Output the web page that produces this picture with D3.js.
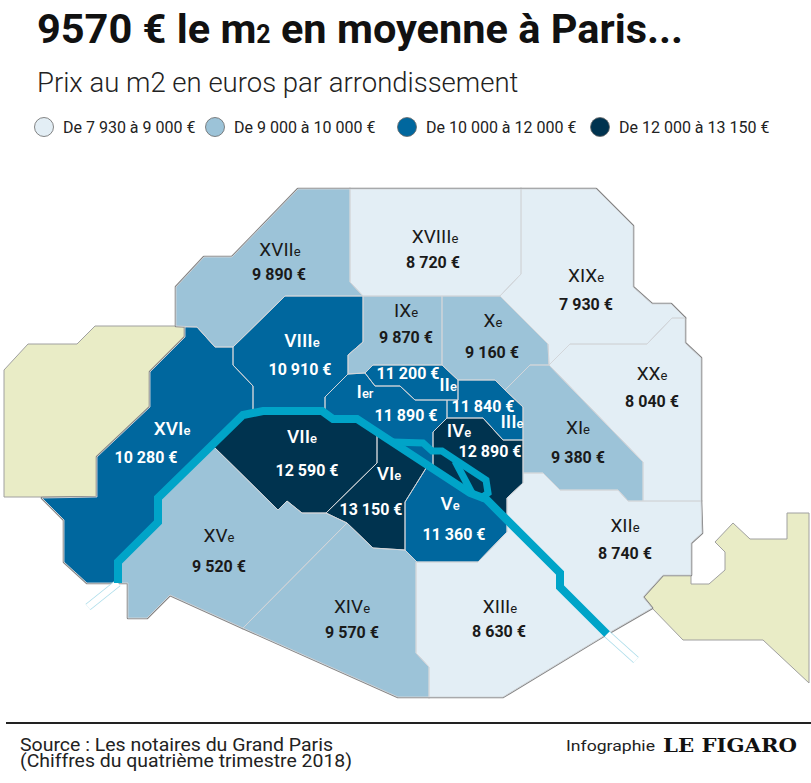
<!DOCTYPE html>
<html>
<head>
<meta charset="utf-8">
<title>Prix au m2 à Paris</title>
<script src="https://cdn.jsdelivr.net/npm/d3@7/dist/d3.min.js"></script>
<style>
  body { margin: 0; background: #fff; }
  svg text { font-family: Roboto, "Noto Sans", sans-serif; }
</style>
</head>
<body>
<svg id="chart" width="811" height="783"></svg>
<script>
  // arrondissements, in order I..XX
  const arrNames = ["I", "II", "III", "IV", "V", "VI", "VII", "VIII", "IX", "X",
                    "XI", "XII", "XIII", "XIV", "XV", "XVI", "XVII", "XVIII", "XIX", "XX"];
  const arrSuffix = ["er", "e", "e", "e", "e", "e", "e", "e", "e", "e",
                     "e", "e", "e", "e", "e", "e", "e", "e", "e", "e"];
  // prix au m2 (euros)
  const prices = [11890, 11200, 11840, 12890, 11360, 13150, 12590, 10910, 9870, 9160,
                  9380, 8740, 8630, 9570, 9520, 10280, 9890, 8720, 7930, 8040];

  // classes de la légende
  const breaks = [9000, 10000, 12000];
  const legendLabels = ["De 7 930 à 9 000 €", "De 9 000 à 10 000 €",
                        "De 10 000 à 12 000 €", "De 12 000 à 13 150 €"];

  // contours (unités de carte)
  const shapes = [
    [[325,411],[325,397],[348,374],[365,373],[375,386],[400,386],[415,400],[447,400],[447,418],[433,432],[433,469],[357,419],[333,419],[322,411]],
    [[365,373],[373,365],[442,365],[458,380],[458,400],[415,400],[400,386],[375,386]],
    [[458,380],[495,380],[505,390],[523,407],[523,440],[503,440],[483,418],[447,418],[447,400],[458,400]],
    [[433,432],[447,418],[483,418],[503,440],[523,440],[523,483],[507,498],[507,520],[486,499],[470,493],[433,469]],
    [[405,502],[428,465],[470,493],[486,499],[507,520],[507,532],[478,562],[417,562],[405,550]],
    [[377,432],[428,465],[405,502],[405,550],[373,548],[347,523],[326,513],[377,463]],
    [[212,445],[243,415],[263,411],[322,411],[333,419],[357,419],[377,432],[377,463],[326,513],[302,513],[287,501],[278,510]],
    [[233,347],[285,296],[363,296],[363,342],[348,355],[348,374],[325,397],[325,411],[263,411],[253,413],[253,386],[233,365]],
    [[363,296],[442,296],[442,365],[373,365],[365,373],[348,374],[348,355],[363,342]],
    [[442,296],[500,296],[548,344],[549,365],[530,365],[505,390],[495,380],[458,380],[442,365]],
    [[505,390],[530,365],[549,365],[643,462],[643,501],[628,501],[618,490],[560,490],[543,473],[523,473],[523,407]],
    [[507,498],[523,483],[523,473],[543,473],[560,490],[618,490],[628,501],[701,501],[702,533],[691,543],[691,575],[663,575],[643,597],[652,608],[607,634],[560,587],[560,573],[507,520]],
    [[417,562],[478,562],[507,532],[507,520],[560,573],[560,587],[607,634],[503,697],[429,697],[429,667],[416,653],[416,562]],
    [[243,628],[347,523],[373,548],[405,550],[417,562],[416,562],[416,653],[429,667],[429,697],[398,697]],
    [[212,445],[158,498],[158,522],[118,562],[118,583],[128,583],[128,618],[147,618],[170,595],[243,628],[347,523],[326,513],[302,513],[287,501],[278,510]],
    [[185,327],[197,327],[215,347],[233,347],[233,365],[253,386],[253,413],[243,415],[158,498],[158,522],[118,562],[118,583],[87,583],[64,562],[64,520],[42,498],[97,497],[97,457],[150,407],[150,372],[185,337]],
    [[298,189],[350,189],[350,282],[363,296],[285,296],[233,347],[215,347],[197,327],[176,326],[176,287],[204,257],[232,257]],
    [[350,189],[521,189],[521,274],[500,296],[363,296],[350,282]],
    [[521,189],[596,189],[633,226],[633,287],[652,304],[671,304],[685,318],[672,318],[647,344],[570,344],[549,365],[548,344],[500,296],[521,274]],
    [[672,318],[685,318],[685,343],[701,358],[701,501],[643,501],[643,462],[549,365],[570,344],[647,344]]
  ];

  // ancres des étiquettes (unités de carte)
  const nameAt = [[365,398],[448,391],[512,428],[459,437],[450,510],[389,480],[302,443],[302,347],[406,317],[493,327],
                  [578,434],[625,532],[500,613],[352,613],[219,542],[172,435],[280,256],[435,243],[586,282],[652,380]];
  const priceAt = [[406,421],[408,379],[483,412],[490,457],[454,540],[371,515],[307,476],[300,375],[406,343],[492,358],
                   [578,463],[625,559],[499,637],[352,638],[219,572],[146,463],[279,280],[433,268],[586,310],[652,407]];

  // bois
  const boisBoulogne = [[4,370],[28,344],[77,344],[95,326],[185,326],[185,337],[150,372],[150,407],[97,457],[97,497],[4,497]];
  const boisVincennes = [[663,575],[691,575],[691,584],[709,584],[725,570],[725,552],[715,542],[733,523],[750,539],
                         [787,539],[787,513],[809,513],[809,683],[763,640],[683,640],[652,608],[643,597]];

  // la Seine
  const seine = [[118,583],[118,562],[158,522],[158,498],[243,415],[263,411],[322,411],[333,419],[357,419],
                 [470,493],[486,499],[560,573],[560,587],[607,634]];
  const seineArm = [[393,442],[423,443],[432,451],[442,451],[486,480],[488,493],[480,499]];
  const seineCross = [[455,461],[473,495]];
  const seineOut = [[[118,583],[88,607]], [[607,634],[636,660]]];

  const colors = ["#e3eef5", "#9cc3d8", "#00679e", "#00334f"];

  const svg = d3.select("#chart");
  const color = d3.scaleThreshold().domain(breaks).range(colors);
  const euro = d3.formatLocale({decimal: ",", thousands: " ", grouping: [3], currency: ["", " €"]}).format("$,d");

  // map scales
  const allPts = shapes.flat().concat(boisBoulogne, boisVincennes);
  const x = d3.scaleLinear().domain(d3.extent(allPts, d => d[0])).range([4, 809]);
  const y = d3.scaleLinear().domain(d3.extent(allPts, d => d[1])).range([189, 697]);
  const line = d3.line().x(d => x(d[0])).y(d => y(d[1]));
  const poly = d3.line().x(d => x(d[0])).y(d => y(d[1])).curve(d3.curveLinearClosed);

  // ---- titre ----
  const title = svg.append("text")
    .attr("x", 37).attr("y", 43)
    .attr("font-size", 41.5).attr("font-weight", 700).attr("fill", "#111");
  title.append("tspan").text("9570 € le m");
  title.append("tspan").attr("font-size", "0.6em").text("2");
  title.append("tspan").text(" en moyenne à Paris...");

  svg.append("text")
    .attr("x", 37).attr("y", 92)
    .attr("font-size", 27.5).attr("font-weight", 300).attr("fill", "#222")
    .text("Prix au m2 en euros par arrondissement");

  // ---- légende ----
  const legendX = [44, 215, 407, 600];
  const legend = svg.append("g").selectAll("g")
    .data(legendLabels)
    .join("g")
    .attr("transform", (d, i) => `translate(${legendX[i]},127)`);
  legend.append("circle")
    .attr("r", 9.5)
    .attr("fill", (d, i) => colors[i])
    .attr("stroke", "#666").attr("stroke-width", 0.8);
  legend.append("text")
    .attr("x", 19).attr("y", 5.5)
    .attr("font-size", 16).attr("fill", "#222")
    .text(d => d);

  // ---- carte ----
  const map = svg.append("g");

  map.selectAll("path.bois")
    .data([boisBoulogne, boisVincennes])
    .join("path")
    .attr("class", "bois")
    .attr("d", poly)
    .attr("fill", "#e9ecc6")
    .attr("stroke", "#a0a0a0").attr("stroke-width", 1);

  // contour extérieur
  map.append("g").selectAll("path")
    .data(shapes).join("path")
    .attr("d", poly)
    .attr("fill", "none")
    .attr("stroke", "#858585").attr("stroke-width", 2.6)
    .attr("stroke-linejoin", "round");

  map.append("g").selectAll("path")
    .data(shapes).join("path")
    .attr("d", poly)
    .attr("fill", (d, i) => color(prices[i]));

  map.append("g").selectAll("path")
    .data(shapes).join("path")
    .attr("d", poly)
    .attr("fill", "none")
    .attr("stroke", "#d2d6da").attr("stroke-width", 0.9);

  // Seine
  map.selectAll("path.out")
    .data(seineOut).join("path")
    .attr("class", "out")
    .attr("d", line)
    .attr("fill", "none")
    .attr("stroke", "#a9dcea").attr("stroke-width", 8);
  map.selectAll("path.outin")
    .data(seineOut).join("path")
    .attr("class", "outin")
    .attr("d", line)
    .attr("fill", "none")
    .attr("stroke", "#fff").attr("stroke-width", 6.4);

  map.selectAll("path.seine")
    .data([seine, seineArm, seineCross]).join("path")
    .attr("class", "seine")
    .attr("d", line)
    .attr("fill", "none")
    .attr("stroke", "#00a4c8")
    .attr("stroke-width", (d, i) => i === 0 ? 8 : 7)
    .attr("stroke-linejoin", "miter")
    .attr("stroke-miterlimit", 3);

  // étiquettes
  const labels = map.append("g").selectAll("g")
    .data(arrNames).join("g");

  const names = labels.append("text")
    .attr("x", (d, i) => x(nameAt[i][0]))
    .attr("y", (d, i) => y(nameAt[i][1]))
    .attr("text-anchor", "middle")
    .attr("font-size", 19)
    .attr("font-weight", (d, i) => prices[i] >= 10000 ? 500 : 400)
    .attr("fill", (d, i) => prices[i] >= 10000 ? "#fff" : "#1a1a1a");
  names.append("tspan").text(d => d);
  names.append("tspan").attr("font-size", 13).text((d, i) => arrSuffix[i]);

  labels.append("text")
    .attr("x", (d, i) => x(priceAt[i][0]))
    .attr("y", (d, i) => y(priceAt[i][1]))
    .attr("text-anchor", "middle")
    .attr("font-size", 16)
    .attr("font-weight", 700)
    .attr("fill", (d, i) => prices[i] >= 10000 ? "#fff" : "#1a1a1a")
    .text((d, i) => euro(prices[i]));

  // ---- pied ----
  svg.append("line")
    .attr("x1", 6).attr("x2", 811)
    .attr("y1", 723).attr("y2", 723)
    .attr("stroke", "#222").attr("stroke-width", 2);

  svg.append("text")
    .attr("x", 20).attr("y", 751)
    .attr("font-size", 19).attr("fill", "#222")
    .attr("textLength", 313).attr("lengthAdjust", "spacingAndGlyphs")
    .text("Source : Les notaires du Grand Paris");
  svg.append("text")
    .attr("x", 20).attr("y", 767)
    .attr("font-size", 19).attr("fill", "#222")
    .attr("textLength", 332).attr("lengthAdjust", "spacingAndGlyphs")
    .text("(Chiffres du quatrième trimestre 2018)");

  svg.append("text")
    .attr("x", 566).attr("y", 751)
    .attr("font-size", 15).attr("fill", "#222")
    .attr("textLength", 89).attr("lengthAdjust", "spacingAndGlyphs")
    .text("Infographie");
  svg.append("text")
    .attr("x", 663).attr("y", 752)
    .style("font-family", "'DejaVu Serif', serif")
    .attr("font-size", 19).attr("font-weight", 700).attr("fill", "#111")
    .attr("textLength", 134).attr("lengthAdjust", "spacingAndGlyphs")
    .text("LE FIGARO");
</script>
</body>
</html>
